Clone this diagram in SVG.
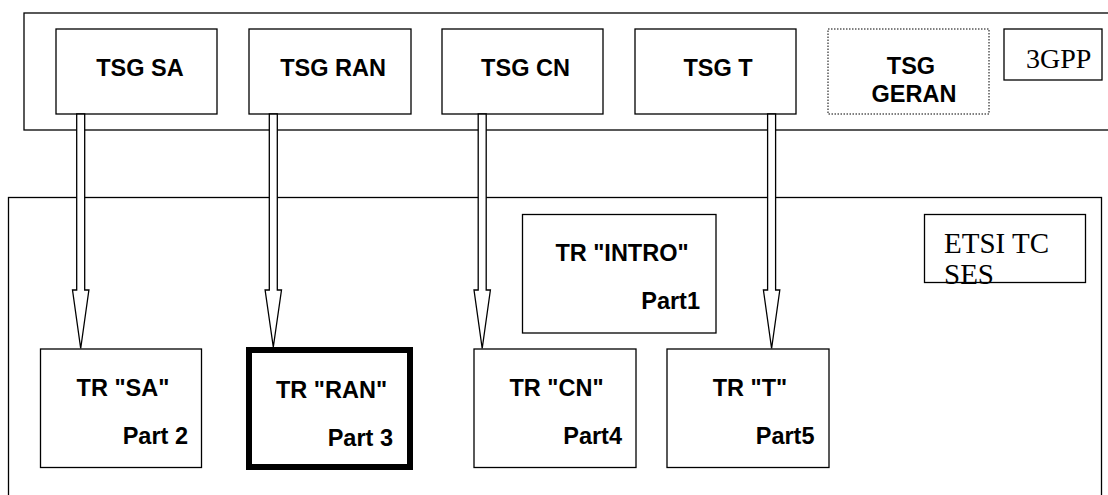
<svg xmlns="http://www.w3.org/2000/svg" width="1108" height="495" viewBox="0 0 1108 495">
<style>
.box{fill:#fff;stroke:#000;stroke-width:1.3}
.frame{fill:none;stroke:#000;stroke-width:1.3}
.thick{fill:#fff;stroke:#000;stroke-width:6}
.dot{fill:#fff;stroke:#000;stroke-width:1;stroke-dasharray:1.5 1.5}
.b{font-family:"Liberation Sans",Arial,sans-serif;font-weight:bold;font-size:23.5px;fill:#000}
.s{font-family:"Liberation Serif","Times New Roman",serif;font-size:29px;fill:#000}
.arrow{fill:#fff;stroke:#000;stroke-width:1.3;stroke-linejoin:miter}
</style>
<rect width="1108" height="495" fill="#fff"/>
<g id="frame-3gpp">
<rect class="frame" x="24" y="13" width="1090" height="117"/>
</g>
<g id="frame-etsi">
<rect class="frame" x="8.5" y="197.5" width="1093" height="310"/>
</g>
<g id="tsg-sa">
<rect class="box" x="56" y="29" width="161" height="85"/>
<text class="b" x="140" y="76" text-anchor="middle">TSG SA</text>
</g>
<g id="tsg-ran">
<rect class="box" x="249" y="29" width="162" height="85"/>
<text class="b" x="333" y="76" text-anchor="middle">TSG RAN</text>
</g>
<g id="tsg-cn">
<rect class="box" x="442" y="29" width="161" height="85"/>
<text class="b" x="525.5" y="76" text-anchor="middle">TSG CN</text>
</g>
<g id="tsg-t">
<rect class="box" x="635" y="29" width="161" height="85"/>
<text class="b" x="718" y="76" text-anchor="middle">TSG T</text>
</g>
<g id="tsg-geran">
<rect class="dot" x="828" y="29" width="161" height="85"/>
<text class="b" x="911" y="74" text-anchor="middle">TSG</text>
<text class="b" x="914" y="101.5" text-anchor="middle">GERAN</text>
</g>
<g id="label-3gpp">
<rect class="box" x="1004" y="29" width="98" height="51"/>
<text class="s" x="1026" y="68" style="font-size:28px">3GPP</text>
</g>
<g id="label-etsi">
<rect class="box" x="924.5" y="214.5" width="161" height="68"/>
<text class="s" x="944" y="253">ETSI TC</text>
<text class="s" x="944" y="283.5">SES</text>
</g>
<g id="tr-intro">
<rect class="box" x="522.5" y="214.5" width="193.5" height="118.5"/>
<text class="b" x="622" y="261" text-anchor="middle">TR "INTRO"</text>
<text class="b" x="700" y="309" text-anchor="end">Part1</text>
</g>
<g id="tr-sa">
<rect class="box" x="40.5" y="349" width="161" height="118.5"/>
<text class="b" x="123" y="396" text-anchor="middle">TR "SA"</text>
<text class="b" x="188" y="444" text-anchor="end">Part 2</text>
</g>
<g id="tr-ran">
<rect class="thick" x="249" y="350" width="161" height="117"/>
<text class="b" x="331.5" y="398" text-anchor="middle">TR "RAN"</text>
<text class="b" x="393" y="445.5" text-anchor="end">Part 3</text>
</g>
<g id="tr-cn">
<rect class="box" x="474" y="349" width="162" height="118.5"/>
<text class="b" x="556.5" y="396" text-anchor="middle">TR "CN"</text>
<text class="b" x="622" y="443.5" text-anchor="end">Part4</text>
</g>
<g id="tr-t">
<rect class="box" x="667" y="349" width="162" height="118.5"/>
<text class="b" x="750" y="396" text-anchor="middle">TR "T"</text>
<text class="b" x="814.5" y="443.5" text-anchor="end">Part5</text>
</g>
<g id="connectors">
<polygon class="arrow" points="76.7,114 76.7,290 72.5,290 80.7,348.5 88.9,290 84.7,290 84.7,114"/>
<polygon class="arrow" points="269.3,114 269.3,290 265.1,290 273.3,347 281.5,290 277.3,290 277.3,114"/>
<polygon class="arrow" points="478.2,114 478.2,290 474,290 482.2,348.5 490.4,290 486.2,290 486.2,114"/>
<polygon class="arrow" points="767.6,114 767.6,290 763.4,290 771.6,348.5 779.8,290 775.6,290 775.6,114"/>
</g>
</svg>
